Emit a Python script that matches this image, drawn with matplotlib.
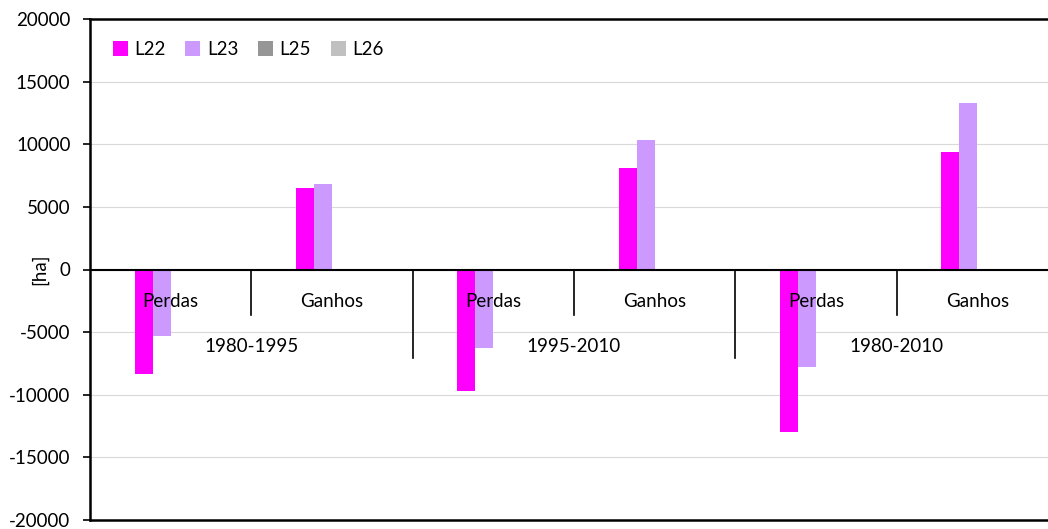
import matplotlib
matplotlib.use("Agg")
import matplotlib.pyplot as plt
import matplotlib.transforms as mtransforms
import numpy as np

plt.rcParams['font.family'] = ['Lato', 'DejaVu Sans']

periods = ["1980-1995", "1995-2010", "1980-2010"]
subcats = ["Perdas", "Ganhos"]
series = ["L22", "L23", "L25", "L26"]
L22 = [-8350, 6500, -9700, 8100, -12980, 9400]
L23 = [-5300, 6830, -6250, 10340, -7760, 13300]
L25 = [0, 0, 0, 0, 0, 0]
L26 = [0, 0, 0, 0, 0, 0]
colors = ["#FF00FF", "#CC99FF", "#969696", "#C0C0C0"]
yticks = [-20000, -15000, -10000, -5000, 0, 5000, 10000, 15000, 20000]

fig = plt.figure(figsize=(10.48, 5.29), dpi=100)
ax = fig.add_axes([90/1048, 9/529, 968/1048, 501/529])

n = len(L22)
x = np.arange(n)
w = 0.112
for i, (vals, name, c) in enumerate(zip([L22, L23, L25, L26], series, colors)):
    ax.bar(x + (i - 1.5) * w, vals, width=w, color=c, label=name, zorder=3)

ax.set_xlim(-0.5, n - 0.5)
ax.set_ylim(-20000, 20000)
ax.set_yticks(yticks)
ax.set_yticklabels([str(v) for v in yticks], fontsize=13.5)
ax.set_xticks([])
ax.yaxis.grid(True, color="#D9D9D9", linewidth=0.8, zorder=0)
ax.set_axisbelow(True)
ax.tick_params(axis='y', direction='out', length=5, width=1.2, pad=9)
for s in ["left", "top", "bottom"]:
    ax.spines[s].set_linewidth(1.8)
    ax.spines[s].set_color("black")
ax.spines["right"].set_visible(False)

ax.axhline(0, color="black", linewidth=1.5, zorder=4)

ax.text(-0.0517, 0.5, "[ha]", transform=ax.transAxes, rotation=90,
        ha="center", va="center", fontsize=13.5)

trans = mtransforms.blended_transform_factory(ax.transData, ax.transAxes)
# separators
for k in range(1, n):
    if k % 2 == 1:
        ax.plot([k - 0.5, k - 0.5], [0.5, 0.5 - 0.09], transform=trans, color="black", lw=1.2, clip_on=False, zorder=4)
    else:
        ax.plot([k - 0.5, k - 0.5], [0.5, 0.5 - 0.177], transform=trans, color="black", lw=1.2, clip_on=False, zorder=4)

for k in range(n):
    ax.text(k, 0.436, subcats[k % 2], transform=trans, ha="center", va="center", fontsize=13.5, zorder=5)
for j, p in enumerate(periods):
    ax.text(2 * j + 0.5, 0.347, p, transform=trans, ha="center", va="center", fontsize=13.5, zorder=5)

ax.legend(loc="upper left", bbox_to_anchor=(0.01, 0.982), ncol=4, frameon=False,
          fontsize=13.5, handlelength=0.8, handleheight=0.8, handletextpad=0.35,
          columnspacing=1.05, borderaxespad=0.3)

fig.savefig("out.png", dpi=100)
